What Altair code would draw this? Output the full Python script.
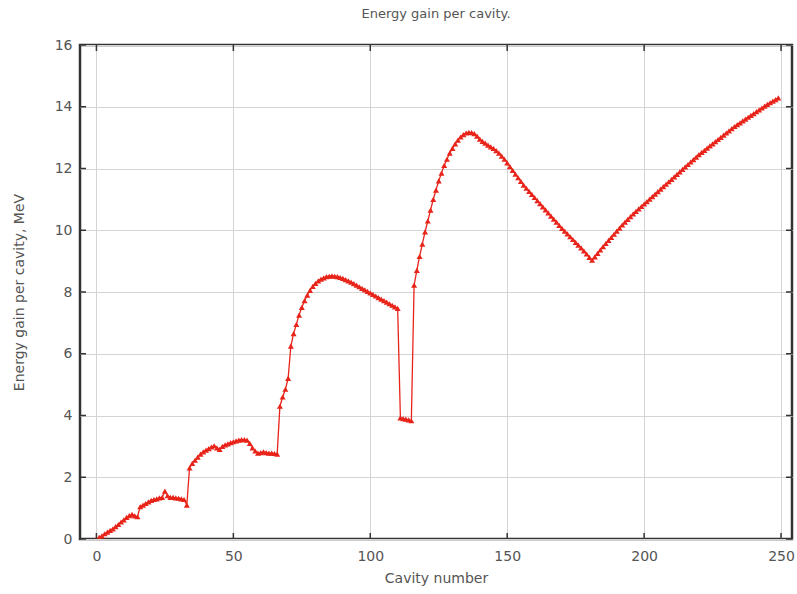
import altair as alt
import pandas as pd

cavity = list(range(0, 250))

gain_seg1 = [0.0, 0.05, 0.1, 0.17, 0.22, 0.28, 0.33, 0.4, 0.47, 0.55,
             0.62, 0.7, 0.76, 0.8, 0.75, 0.72, 1.05, 1.1, 1.15, 1.2,
             1.25, 1.28, 1.3, 1.33, 1.35, 1.55, 1.4, 1.35, 1.35, 1.33,
             1.32, 1.3, 1.28, 1.1]  # cavities 0-33
gain_seg2 = [2.3, 2.45, 2.55, 2.65, 2.75, 2.82, 2.88, 2.93, 2.98, 3.02,
             2.95, 2.9, 3.0, 3.05, 3.08, 3.12, 3.15, 3.18, 3.2, 3.22,
             3.22, 3.2, 3.1, 2.95, 2.85, 2.78, 2.8, 2.82, 2.8, 2.78,
             2.78, 2.77, 2.75]  # cavities 34-66
gain_seg3 = [4.3, 4.6, 4.85, 5.2, 6.25, 6.65, 6.95, 7.25, 7.5, 7.72,
             7.9, 8.05, 8.18, 8.28, 8.36, 8.42, 8.46, 8.5, 8.51, 8.52,
             8.51, 8.5, 8.47, 8.44, 8.4, 8.36, 8.32, 8.27, 8.22, 8.17,
             8.12, 8.07, 8.02, 7.97, 7.92, 7.87, 7.82, 7.77, 7.72, 7.67,
             7.62, 7.57, 7.52, 7.47]  # cavities 67-110
gain_seg4 = [3.92, 3.9, 3.88, 3.86, 3.83]  # cavities 111-115
gain_seg5 = [8.22, 8.7, 9.15, 9.55, 9.95, 10.3, 10.65, 11.0, 11.3, 11.6,
             11.85, 12.1, 12.3, 12.5, 12.65, 12.8, 12.92, 13.02, 13.1, 13.15,
             13.17, 13.16, 13.13, 13.05, 12.95, 12.88, 12.82, 12.76, 12.7, 12.65,
             12.58, 12.5, 12.4, 12.3, 12.18, 12.06, 11.94, 11.82, 11.7, 11.58,
             11.46, 11.36, 11.26, 11.16, 11.06, 10.96, 10.86, 10.76, 10.66, 10.56,
             10.46, 10.36, 10.26, 10.16, 10.06, 9.97, 9.88, 9.79, 9.7, 9.61,
             9.52, 9.43, 9.33, 9.23, 9.12, 9.03]  # cavities 116-181
gain_seg6 = [9.14, 9.25, 9.36, 9.47, 9.57, 9.67, 9.77, 9.87, 9.97, 10.07,
             10.17, 10.26, 10.35, 10.44, 10.53, 10.61, 10.69, 10.77, 10.85, 10.93,
             11.01, 11.09, 11.17, 11.25, 11.33, 11.41, 11.49, 11.57, 11.65, 11.73,
             11.81, 11.89, 11.97, 12.05, 12.13, 12.21, 12.29, 12.37, 12.45, 12.52,
             12.59, 12.66, 12.73, 12.8, 12.87, 12.94, 13.01, 13.08, 13.15, 13.22,
             13.29, 13.36, 13.42, 13.48, 13.54, 13.6, 13.66, 13.72, 13.78, 13.84,
             13.9, 13.96, 14.02, 14.08, 14.13, 14.18, 14.23, 14.29]  # cavities 182-249

gain = gain_seg1 + gain_seg2 + gain_seg3 + gain_seg4 + gain_seg5 + gain_seg6

x_ticks = [0, 50, 100, 150, 200, 250]
y_ticks = [0, 2, 4, 6, 8, 10, 12, 14, 16]

W, H = 712, 494
RED = "#e8241a"
AX = "#333333"
TXT = "#555555"
FONT = "DejaVu Sans"

df = pd.DataFrame({"cavity": cavity, "gain": gain})
xt = pd.DataFrame({"t": x_ticks})
yt = pd.DataFrame({"t": y_ticks})

xscale = alt.Scale(domain=[-6, 254], nice=False, zero=False)
yscale = alt.Scale(domain=[0, 16], nice=False)

xaxis = alt.Axis(values=x_ticks, format="d", grid=True, gridColor="#d4d4d4",
                 tickSize=0, labelPadding=10, titlePadding=8, domain=False)
yaxis = alt.Axis(values=y_ticks, format="d", grid=True, gridColor="#d4d4d4",
                 tickSize=0, labelPadding=8, titlePadding=28, domain=False)
XT = "Cavity number"
YT = "Energy gain per cavity, MeV"

line = alt.Chart(df).mark_line(
    color=RED, strokeWidth=1.3, clip=True,
    point=alt.OverlayMarkDef(shape="triangle-up", size=36, filled=True, color=RED),
).encode(
    x=alt.X("cavity:Q", scale=xscale, title=XT, axis=xaxis),
    y=alt.Y("gain:Q", scale=yscale, title=YT, axis=yaxis),
)

tick_len = 6
xb = alt.Chart(xt).mark_rule(color=AX, strokeWidth=1.5).encode(
    x=alt.X("t:Q", scale=xscale, title=XT, axis=xaxis), y=alt.value(H), y2=alt.value(H - tick_len))
xtop = alt.Chart(xt).mark_rule(color=AX, strokeWidth=1.5).encode(
    x=alt.X("t:Q", scale=xscale, title=XT, axis=xaxis), y=alt.value(0), y2=alt.value(tick_len))
yl = alt.Chart(yt).mark_rule(color=AX, strokeWidth=1.5).encode(
    y=alt.Y("t:Q", scale=yscale, title=YT, axis=yaxis), x=alt.value(0), x2=alt.value(tick_len))
yr = alt.Chart(yt).mark_rule(color=AX, strokeWidth=1.5).encode(
    y=alt.Y("t:Q", scale=yscale, title=YT, axis=yaxis), x=alt.value(W), x2=alt.value(W - tick_len))

chart = alt.layer(line, xb, xtop, yl, yr).properties(
    width=W, height=H,
    title=alt.TitleParams("Energy gain per cavity.", fontSize=13, font=FONT,
                          fontWeight="normal", color=TXT, offset=17, anchor="middle"),
    autosize=alt.AutoSizeParams(type="none"),
    padding={"left": 80, "top": 45, "right": 5, "bottom": 55},
).configure_view(
    stroke=AX, strokeWidth=2.5
).configure_axis(
    labelFont=FONT, titleFont=FONT, labelFontSize=14, titleFontSize=14,
    labelColor=TXT, titleColor=TXT, titleFontWeight="normal",
)

chart.save("out.html", embed_options={"renderer": "svg", "actions": False})
